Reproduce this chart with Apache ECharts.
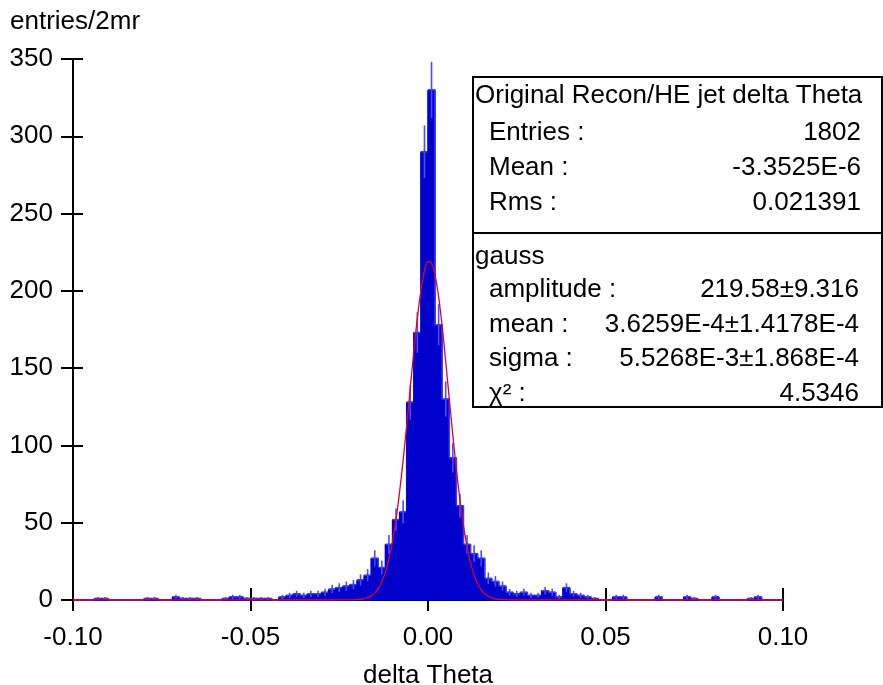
<!DOCTYPE html>
<html>
<head>
<meta charset="utf-8">
<script src="https://cdn.jsdelivr.net/npm/echarts@6/dist/echarts.min.js"></script>
<style>
  html, body { margin: 0; padding: 0; background: #fff; }
  #grafico { width: 883px; height: 685px; }
</style>
</head>
<body>
<div id="grafico"></div>
<script>
// Datos
const binLow = -0.1;
const binWidth = 0.002;
// entradas por bin de 2 mr, de -0.1 a 0.1
const counts = [
  0, 0, 0, 1, 1, 0, 0, 0, 0, 0,
  1, 1, 0, 0, 2, 1, 1, 1, 0, 0,
  0, 1, 2, 2, 1, 1, 1, 1, 0, 2,
  3, 4, 3, 4, 4, 5, 7, 8, 9, 10,
  13, 16, 27, 21, 36, 52, 57, 128, 173, 290,
  330, 178, 130, 92, 61, 36, 30, 27, 14, 12,
  9, 5, 4, 5, 3, 3, 6, 5, 2, 8,
  4, 3, 2, 1, 0, 0, 2, 2, 0, 0,
  0, 0, 2, 0, 0, 0, 2, 1, 0, 0,
  2, 0, 0, 0, 0, 1, 2, 0, 0, 0
];

// curva del ajuste gaussiano
const fitX = [-0.1, -0.03, -0.024, -0.02, -0.018, -0.016, -0.015, -0.014, -0.013, -0.012, -0.011,
  -0.01, -0.009, -0.008, -0.007, -0.006, -0.005, -0.004, -0.003, -0.002, -0.001,
  0, 0.001, 0.002, 0.003, 0.004, 0.005, 0.006, 0.007, 0.008, 0.009,
  0.01, 0.011, 0.012, 0.013, 0.014, 0.015, 0.016, 0.018, 0.02, 0.025, 0.1];
const fitY = [0, 0, 0.05, 0.25, 0.9, 2.7, 4.6, 7.5, 11.8, 18, 26.6,
  38, 52.3, 70, 90.5, 113, 137, 161, 182.5, 200, 213,
  219, 218, 210, 196, 177, 154, 130, 106.7, 84.5, 64.7,
  48, 34.4, 24, 16.1, 10.5, 6.6, 4, 1.35, 0.4, 0, 0];

const statsTitulo = 'Original Recon/HE jet delta Theta';
const statsNombres = ['Entries :', 'Mean :', 'Rms :'];
const statsValores = ['1802', '-3.3525E-6', '0.021391'];
const fitTitulo = 'gauss';
const fitNombres = ['amplitude :', 'mean :', 'sigma :', 'χ² :'];
const fitValores = ['219.58±9.316', '3.6259E-4±1.4178E-4', '5.5268E-3±1.868E-4', '4.5346'];

const fuente = 'Liberation Sans, Arial, sans-serif';
const tam = 26;

// PROCESAMIENTO
function procesarHist(data) {
    return data.map((n, i) => [binLow + binWidth * i, binLow + binWidth * (i + 1), n]);
}

function dibujarBin(params, api) {
    const i = params.dataIndex;
    const x0 = api.value(0), x1 = api.value(1), n = api.value(2);
    const p0 = api.coord([x0, 0]);
    const p1 = api.coord([x1, n]);
    const sig = counts[i + 1] !== undefined ? counts[i + 1] : 0;
    const pn = api.coord([x1, sig]);
    const borde = { stroke: '#3b3bff', lineWidth: 1.5 };
    const hijos = [];
    if (n > 0) {
        hijos.push({ type: 'rect', shape: { x: p0[0], y: p1[1], width: p1[0] - p0[0], height: p0[1] - p1[1] },
            style: { fill: '#0000cc', stroke: '#0000cc', lineWidth: 1 } });
        const e = Math.sqrt(n);
        const c = (x0 + x1) / 2;
        const a = api.coord([c, n + e]), b = api.coord([c, Math.max(0, n - e)]);
        hijos.push({ type: 'line', shape: { x1: a[0], y1: a[1], x2: b[0], y2: b[1] },
            style: { stroke: '#4a4aff', lineWidth: 1.6 } });
    }
    hijos.push({ type: 'line', shape: { x1: p0[0], y1: p1[1], x2: p1[0], y2: p1[1] }, style: borde });
    hijos.push({ type: 'line', shape: { x1: p1[0], y1: p1[1], x2: p1[0], y2: pn[1] }, style: borde });
    return { type: 'group', children: hijos };
}

function crearCaja() {
    const x = 473, y = 77, w = 409, h = 330;
    const txt = (t, px, py, al) => ({ type: 'text', x: px, y: py, z: 11,
        style: { text: t, font: tam + 'px ' + fuente, fill: '#000', align: al || 'left', verticalAlign: 'middle' } });
    const els = [
        { type: 'rect', shape: { x: x, y: y, width: w, height: h }, style: { fill: '#fff', stroke: '#000', lineWidth: 2 }, z: 10 },
        { type: 'line', shape: { x1: x, y1: 233, x2: x + w, y2: 233 }, style: { stroke: '#000', lineWidth: 2 }, z: 11 },
        txt(statsTitulo, 475, 96),
        txt(fitTitulo, 475, 257)
    ];
    const filasStats = [133, 168, 203];
    statsNombres.forEach((t, i) => {
        els.push(txt(t, 489, filasStats[i]));
        els.push(txt(statsValores[i], 861, filasStats[i], 'right'));
    });
    const filasFit = [290, 325, 359, 394];
    fitNombres.forEach((t, i) => {
        els.push(txt(t, 489, filasFit[i]));
        els.push(txt(fitValores[i], 859, filasFit[i], 'right'));
    });
    return els;
}

function crearGrafico(hist) {
    const ejeBase = {
        min: -0.1, max: 0.1, interval: 0.05,
        splitLine: { show: false }
    };
    return {
        animation: false,
        grid: { left: 73, top: 59, width: 710, height: 541, outerBoundsMode: 'none', containLabel: false },
        xAxis: [
            Object.assign({}, ejeBase, {
                type: 'value', position: 'bottom',
                name: 'delta Theta', nameLocation: 'middle', nameGap: 63,
                nameTextStyle: { fontFamily: fuente, fontSize: tam, color: '#000' },
                axisLine: { onZero: false, lineStyle: { color: '#000', width: 2 } },
                axisTick: { length: 11, lineStyle: { color: '#000', width: 2 } },
                axisLabel: { margin: 25, fontFamily: fuente, fontSize: tam, color: '#000',
                    formatter: v => v.toFixed(2) }
            }),
            Object.assign({}, ejeBase, {
                type: 'value', position: 'bottom',
                axisLine: { show: false, onZero: false },
                axisTick: { inside: true, length: 12, lineStyle: { color: '#000', width: 2 } },
                axisLabel: { show: false }
            })
        ],
        yAxis: [
            {
                type: 'value', min: 0, max: 350, interval: 50,
                name: 'entries/2mr', nameLocation: 'end', nameGap: 24,
                nameTextStyle: { fontFamily: fuente, fontSize: tam, color: '#000', align: 'left', padding: [0, 0, 0, -63] },
                splitLine: { show: false },
                axisLine: { onZero: false, lineStyle: { color: '#000', width: 2 } },
                axisTick: { length: 12, lineStyle: { color: '#000', width: 2 } },
                axisLabel: { margin: 20, fontFamily: fuente, fontSize: tam, color: '#000' }
            },
            {
                type: 'value', min: 0, max: 350, interval: 50, position: 'left',
                splitLine: { show: false },
                axisLine: { show: false, onZero: false },
                axisTick: { inside: true, length: 10, lineStyle: { color: '#000', width: 2 } },
                axisLabel: { show: false }
            }
        ],
        graphic: crearCaja(),
        series: [
            {
                name: 'hist', type: 'custom',
                xAxisIndex: 0, yAxisIndex: 0,
                renderItem: dibujarBin,
                encode: { x: [0, 1], y: 2 },
                data: hist,
                z: 2
            },
            {
                name: 'gauss', type: 'line',
                xAxisIndex: 0, yAxisIndex: 0,
                data: fitX.map((x, i) => [x, fitY[i]]),
                smooth: 0.3, symbol: 'none',
                lineStyle: { color: '#dd0033', width: 1.3 },
                z: 3
            }
        ]
    };
}

function iniciar() {
    const chartDom = document.getElementById('grafico');
    const myChart = echarts.init(chartDom, null, { renderer: 'canvas' });
    myChart.setOption(crearGrafico(procesarHist(counts)));
}

iniciar();
</script>
</body>
</html>
